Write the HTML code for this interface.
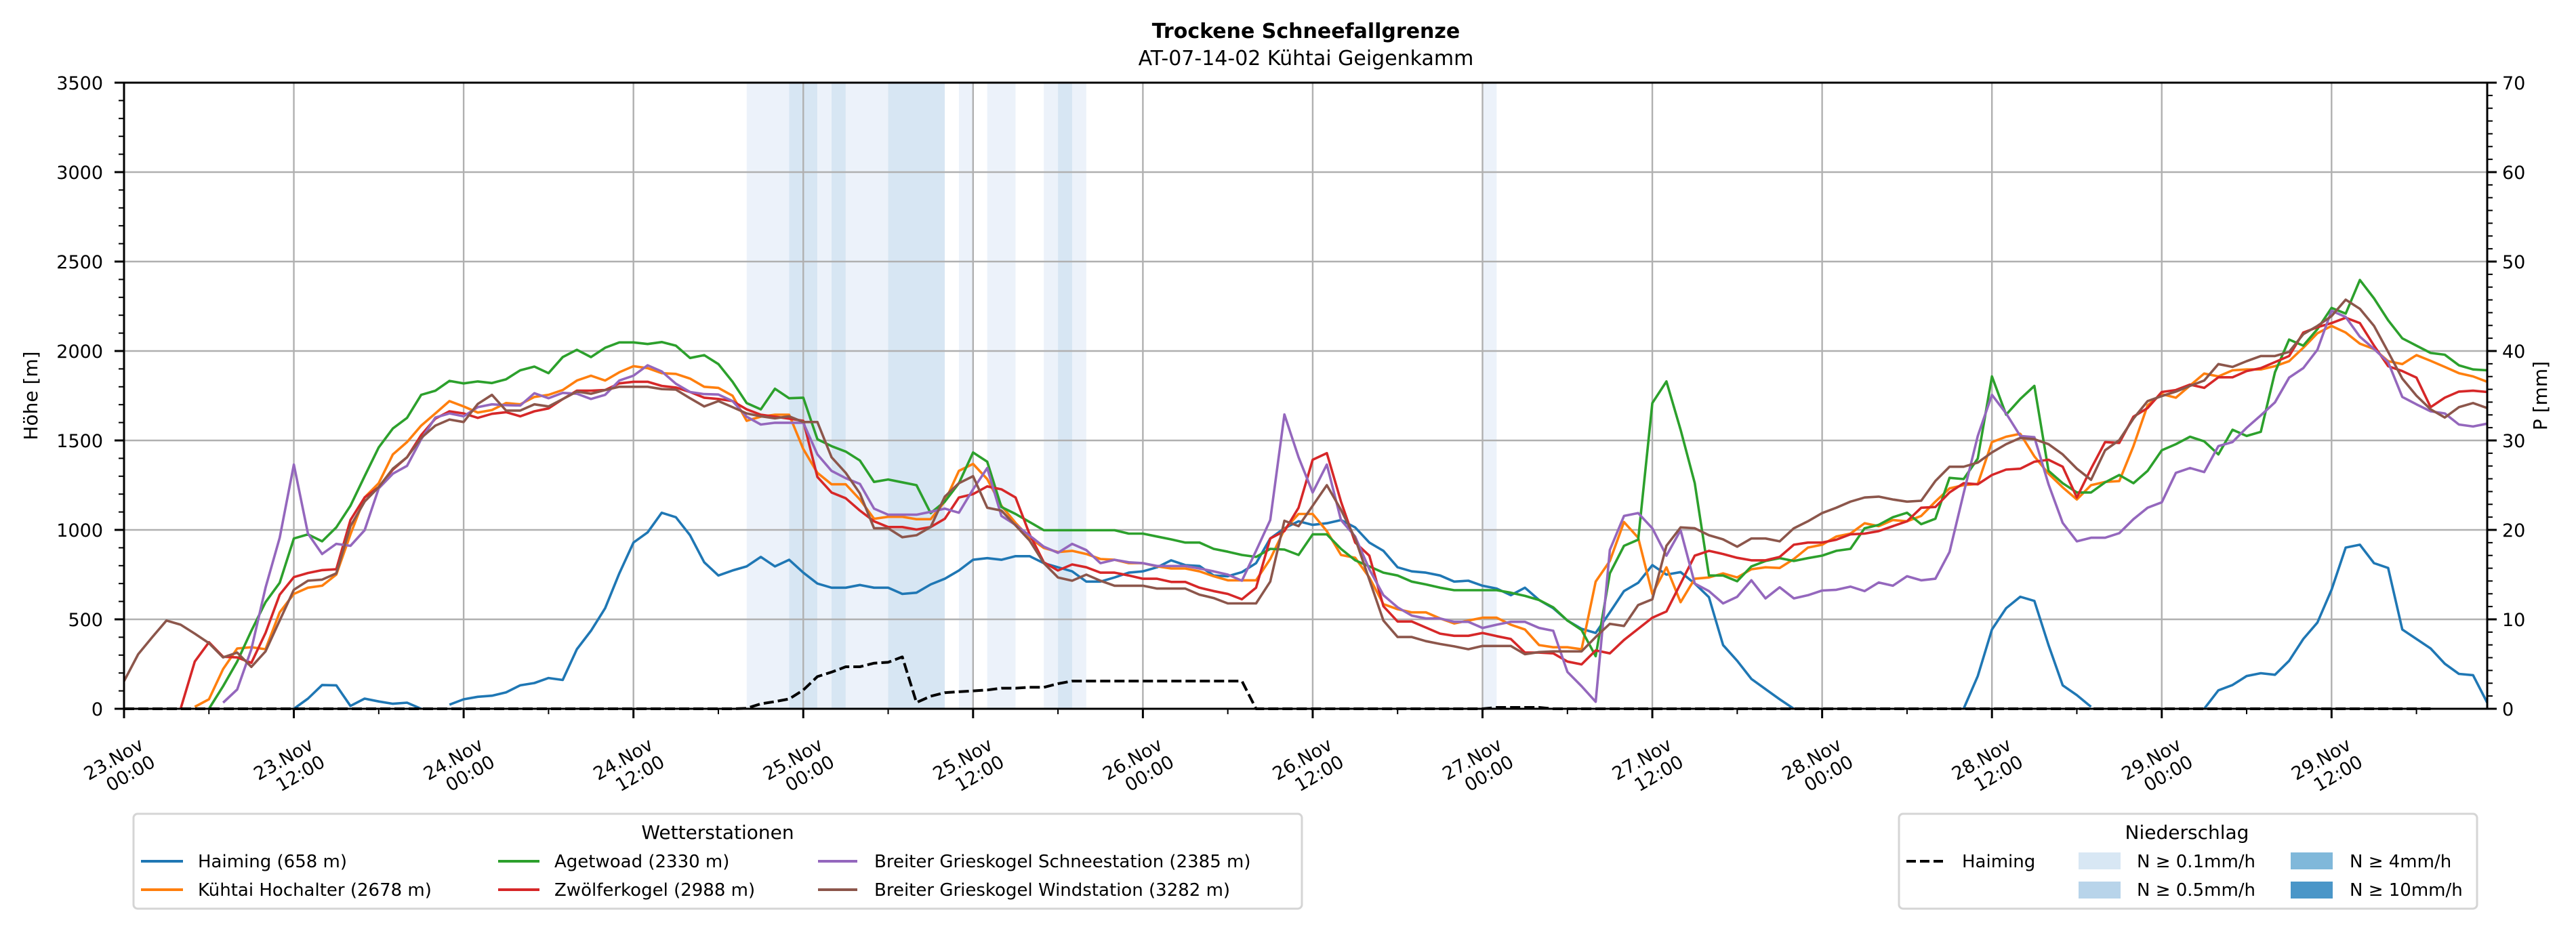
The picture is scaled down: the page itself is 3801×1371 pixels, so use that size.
<!DOCTYPE html>
<html><head><meta charset="utf-8">
<style>
html,body{margin:0;padding:0;background:#fff;}
svg{display:block;font-family:"DejaVu Sans","Liberation Sans",sans-serif;}
</style></head>
<body>
<svg id="chart" width="3801" height="1371" viewBox="0 0 3801 1371" xmlns="http://www.w3.org/2000/svg">
<rect x="0" y="0" width="3801" height="1371" fill="#fff"/>
<text x="1927" y="56" font-size="30" font-weight="bold" text-anchor="middle">Trockene Schneefallgrenze</text>
<text x="1927" y="96" font-size="30" text-anchor="middle">AT-07-14-02 Kühtai Geigenkamm</text>
<g id="bands"></g>
<g id="grid"></g>
<g id="series"></g>
<g id="axes"></g>
<text transform="translate(55,584) rotate(-90)" font-size="28" text-anchor="middle">Höhe [m]</text>
<text transform="translate(3758,584) rotate(-90)" font-size="28" text-anchor="middle">P [mm]</text>

<g>
<rect x="197" y="1201" width="1724" height="140" rx="6" fill="#fff" stroke="#d5d5d5" stroke-width="3"/>
<text x="1059" y="1238" font-size="28" text-anchor="middle">Wetterstationen</text>
<g><line x1="208" y1="1271" x2="270" y2="1271" stroke="#1f77b4" stroke-width="4"/><text x="292" y="1280" font-size="26">Haiming (658 m)</text></g>
<g><line x1="208" y1="1313" x2="270" y2="1313" stroke="#ff7f0e" stroke-width="4"/><text x="292" y="1322" font-size="26">Kühtai Hochalter (2678 m)</text></g>
<g><line x1="735" y1="1271" x2="796" y2="1271" stroke="#2ca02c" stroke-width="4"/><text x="818" y="1280" font-size="26">Agetwoad (2330 m)</text></g>
<g><line x1="735" y1="1313" x2="796" y2="1313" stroke="#d62728" stroke-width="4"/><text x="818" y="1322" font-size="26">Zwölferkogel (2988 m)</text></g>
<g><line x1="1207" y1="1271" x2="1265" y2="1271" stroke="#9467bd" stroke-width="4"/><text x="1290" y="1280" font-size="26">Breiter Grieskogel Schneestation (2385 m)</text></g>
<g><line x1="1207" y1="1313" x2="1265" y2="1313" stroke="#8c564b" stroke-width="4"/><text x="1290" y="1322" font-size="26">Breiter Grieskogel Windstation (3282 m)</text></g>
</g>

<g>
<rect x="2802" y="1201" width="853" height="140" rx="6" fill="#fff" stroke="#d5d5d5" stroke-width="3"/>
<text x="3227" y="1238" font-size="28" text-anchor="middle">Niederschlag</text>
<g><line x1="2813" y1="1271" x2="2867" y2="1271" stroke="#000" stroke-width="4" stroke-dasharray="14 6"/><text x="2895" y="1280" font-size="26">Haiming</text></g>
<g><rect x="3067" y="1258" width="62" height="25" fill="#d8e7f4"/><text x="3153" y="1280" font-size="26">N ≥ 0.1mm/h</text></g>
<g><rect x="3067" y="1301" width="62" height="25" fill="#b8d4ea"/><text x="3153" y="1322" font-size="26">N ≥ 0.5mm/h</text></g>
<g><rect x="3380" y="1258" width="62" height="25" fill="#80b8da"/><text x="3467" y="1280" font-size="26">N ≥ 4mm/h</text></g>
<g><rect x="3380" y="1301" width="62" height="25" fill="#4a96c8"/><text x="3467" y="1322" font-size="26">N ≥ 10mm/h</text></g>
</g>
</svg>
<script>
const hours = Array.from({length:168},(_,i)=>i);
const n = null;
const haiming = [n,n,n,n,n,n,n,n,n,n,n,n,0,57,133,131,16,57,41,28,34,0,n,23,53,67,73,92,131,144,172,161,333,436,562,757,929,986,1096,1071,970,819,745,773,796,849,796,833,761,700,677,677,692,677,677,642,649,695,727,773,833,842,833,853,853,814,791,768,711,711,734,761,768,791,830,803,798,745,741,764,814,952,1009,1048,1028,1037,1055,1014,929,883,791,768,761,745,711,716,688,672,635,677,608,562,493,447,424,539,658,704,803,750,764,700,624,356,268,167,110,53,0,n,n,n,n,n,n,n,n,n,n,n,0,183,443,562,626,603,356,131,76,11,n,n,n,n,n,n,n,0,103,133,183,199,190,268,390,482,665,901,917,814,787,443,390,337,252,195,188,34];
const kuehtai = [n,n,n,n,n,11,53,222,337,344,333,539,642,677,688,750,975,1181,1261,1422,1491,1583,1651,1720,1690,1656,1670,1709,1702,1743,1755,1782,1835,1862,1835,1881,1915,1904,1876,1872,1846,1800,1794,1750,1610,1633,1644,1644,1452,1319,1255,1255,1170,1062,1073,1073,1060,1060,1158,1330,1369,1284,1135,1039,956,899,876,883,865,837,833,814,814,796,784,784,768,741,718,718,718,837,1002,1089,1089,993,860,844,734,585,557,539,539,505,477,493,509,509,470,443,356,344,344,333,711,826,1044,956,642,791,596,727,734,757,734,780,791,787,837,901,917,963,979,1037,1021,1055,1048,1078,1158,1232,1250,1257,1491,1521,1537,1411,1314,1238,1170,1250,1268,1273,1468,1697,1759,1739,1807,1874,1858,1892,1897,1897,1915,1943,2018,2099,2140,2103,2041,2011,1943,1927,1977,1945,1911,1876,1858,1828];
const agetwoad = [n,n,n,n,n,n,0,126,264,436,596,704,952,975,936,1014,1135,1300,1461,1567,1626,1755,1778,1833,1819,1830,1821,1842,1892,1913,1876,1966,2007,1966,2018,2048,2048,2039,2050,2030,1961,1977,1927,1828,1709,1674,1789,1736,1739,1507,1468,1438,1388,1268,1282,1266,1250,1094,1158,1261,1433,1381,1128,1089,1044,998,998,998,998,998,998,979,979,963,947,929,929,894,878,860,849,894,890,860,975,975,894,830,796,761,745,711,695,677,663,663,663,663,649,631,608,567,493,440,294,757,911,945,1709,1830,1560,1261,745,745,713,796,826,842,826,842,856,883,894,1009,1028,1071,1096,1032,1062,1291,1284,1399,1858,1644,1732,1805,1330,1261,1209,1209,1266,1307,1261,1330,1445,1479,1521,1495,1422,1560,1525,1548,1881,2064,2030,2122,2241,2209,2397,2294,2172,2071,2030,1989,1979,1920,1897,1892];
const zwoelfer = [n,n,n,n,0,264,372,291,287,257,424,638,736,759,775,780,1055,1181,1239,1337,1406,1530,1622,1663,1651,1626,1649,1658,1635,1663,1679,1731,1778,1778,1782,1819,1828,1828,1805,1796,1771,1739,1732,1720,1674,1644,1633,1622,1610,1296,1209,1177,1108,1048,1016,1016,1002,1016,1062,1181,1200,1243,1227,1181,975,819,773,807,791,761,761,745,727,727,709,709,677,658,642,612,677,952,993,1124,1392,1429,1158,929,856,573,488,488,454,420,408,408,424,406,390,314,314,310,264,248,326,310,385,447,509,544,700,856,883,865,844,830,830,849,917,929,929,945,975,979,993,1021,1048,1124,1128,1209,1261,1255,1307,1337,1342,1381,1392,1353,1181,1342,1491,1486,1633,1681,1771,1782,1812,1794,1853,1853,1888,1904,1938,1972,2103,2133,2156,2186,2156,2030,1915,1888,1851,1686,1739,1773,1778,1771];
const schneestation = [n,n,n,n,n,n,n,34,108,333,677,956,1365,979,865,922,911,998,1232,1314,1358,1507,1628,1651,1635,1686,1702,1697,1695,1764,1736,1766,1761,1732,1755,1835,1862,1920,1886,1817,1771,1759,1757,1720,1633,1589,1599,1599,1599,1422,1330,1289,1257,1119,1085,1085,1085,1101,1119,1096,1227,1346,1078,1028,968,906,872,922,887,814,833,819,814,798,798,798,784,768,750,716,883,1055,1645,1406,1209,1365,1055,963,780,635,567,521,505,505,486,486,452,470,486,486,452,436,206,126,39,888,1078,1094,1009,856,998,700,658,589,626,718,617,679,617,635,661,665,683,658,706,688,741,718,727,876,1204,1525,1755,1651,1525,1518,1255,1039,936,956,956,982,1060,1124,1154,1319,1346,1323,1468,1491,1571,1640,1713,1851,1904,2007,2225,2190,2080,2011,1938,1743,1702,1663,1651,1589,1578,1594];
const windstation = [154,305,401,493,470,420,367,287,314,234,321,493,665,716,722,757,1021,1158,1239,1342,1406,1514,1583,1617,1603,1704,1755,1667,1667,1702,1690,1731,1773,1761,1782,1800,1800,1800,1787,1784,1736,1690,1720,1686,1651,1635,1624,1635,1603,1603,1406,1319,1204,1009,1009,959,970,1016,1186,1261,1300,1124,1108,1025,940,814,734,716,750,716,688,688,688,672,672,672,638,619,589,589,589,711,1051,1021,1135,1250,1112,952,722,493,401,401,378,362,349,333,351,351,351,305,317,321,321,321,401,475,463,580,612,911,1014,1009,970,947,906,952,952,936,1009,1048,1094,1124,1158,1181,1186,1170,1158,1163,1273,1353,1353,1376,1433,1479,1514,1507,1479,1422,1342,1280,1445,1502,1622,1720,1748,1773,1805,1835,1927,1911,1943,1972,1972,1995,2094,2140,2195,2287,2236,2140,1995,1846,1750,1674,1628,1686,1709,1681];
const precipHaiming = [0,0,0,0,0,0,0,0,0,0,0,0,0,0,0,0,0,0,0,0,0,0,0,0,0,0,0,0,0,0,0,0,0,0,0,0,0,0,0,0,0,0,0,0,0.05,0.55,0.8,1.1,2.1,3.6,4.1,4.7,4.7,5.1,5.2,5.8,0.7,1.4,1.8,1.9,2.0,2.1,2.3,2.3,2.4,2.4,2.8,3.1,3.1,3.1,3.1,3.1,3.1,3.1,3.1,3.1,3.1,3.1,3.1,3.1,0,0,0,0,0,0,0,0,0,0,0,0,0,0,0,0,0,0.15,0.15,0.15,0.15,0,0,0,0,0,0,0,0,0,0,0,0,0,0,0,0,0,0,0,0,0,0,0,0,0,0,0,0,0,0,0,0,0,0,0,0,0,0,0,0,0,0,0,0,0,0,0,0,0,0,0,0,0,0,0,0,0,0,0,0,0,0,0];
const bandStart = [44,47,49,50,51,54,59,61,65,66,67,96];
const bandEnd   = [47,49,50,51,54,58,60,63,66,67,68,97];
const bandLevel = [0.1,0.5,0.1,0.5,0.1,0.5,0.1,0.1,0.1,0.5,0.1,0.1];
const yTicks = [0,500,1000,1500,2000,2500,3000,3500];
const y2Ticks = [0,10,20,30,40,50,60,70];
const xTickHours = [0,12,24,36,48,60,72,84,96,108,120,132,144,156];
const xTickDay = ["23.Nov","23.Nov","24.Nov","24.Nov","25.Nov","25.Nov","26.Nov","26.Nov","27.Nov","27.Nov","28.Nov","28.Nov","29.Nov","29.Nov"];
const xTickTime = ["00:00","12:00","00:00","12:00","00:00","12:00","00:00","12:00","00:00","12:00","00:00","12:00","00:00","12:00"];

const L=183,R=3670,T=122,B=1046,HMAX=167,YMAX=3500,PMAX=70;
const X=h=>L+h*(R-L)/HMAX;
const Y=v=>B-v*(B-T)/YMAX;
const YP=v=>B-v*(B-T)/PMAX;
const NS="http://www.w3.org/2000/svg";
function mk(tag,attrs,parent){const e=document.createElementNS(NS,tag);for(const k in attrs)e.setAttribute(k,attrs[k]);parent.appendChild(e);return e;}

const bands=document.getElementById('bands');
bandStart.forEach((s,i)=>{
  const r=mk('rect',{x:X(s),y:T,width:X(bandEnd[i])-X(s),height:B-T,fill:bandLevel[i]>=0.5?'#d7e6f3':'#ecf2fa'},bands);
  
  
});

const grid=document.getElementById('grid');
xTickHours.forEach(h=>{const l=mk('line',{x1:X(h),x2:X(h),y1:T,y2:B,stroke:'#b0b0b0','stroke-width':2.4},grid);
  
  });
yTicks.forEach(v=>{const l=mk('line',{x1:L,x2:R,y1:Y(v),y2:Y(v),stroke:'#b0b0b0','stroke-width':2.4},grid);
  
  });

const series=document.getElementById('series');
function drawLine(vals,fy,color,name,dash){
  let d='',pen=false;
  vals.forEach((v,i)=>{if(v===null){pen=false;return;}d+=(pen?'L':'M')+X(hours[i]).toFixed(1)+' '+fy(v).toFixed(1)+' ';pen=true;});
  const a={d:d,fill:'none',stroke:color,'stroke-width':dash?4:3.6,'stroke-linejoin':'round'};
  if(dash)a['stroke-dasharray']='15 6';
  const p=mk('path',a,series);
  
  
}
drawLine(haiming,Y,'#1f77b4','line-haiming');
drawLine(kuehtai,Y,'#ff7f0e','line-kuehtai-hochalter');
drawLine(agetwoad,Y,'#2ca02c','line-agetwoad');
drawLine(zwoelfer,Y,'#d62728','line-zwoelferkogel');
drawLine(schneestation,Y,'#9467bd','line-grieskogel-schneestation');
drawLine(windstation,Y,'#8c564b','line-grieskogel-windstation');
drawLine(precipHaiming,YP,'#000','line-precip-haiming',true);

const axes=document.getElementById('axes');
const fr=mk('rect',{x:L,y:T,width:R-L,height:B-T,fill:'none',stroke:'#000','stroke-width':3},axes);


for(let v=0;v<=YMAX;v+=100){mk('line',{x1:L,x2:L-(v%500?8:14),y1:Y(v),y2:Y(v),stroke:'#000','stroke-width':v%500?2:3},axes);}
for(let k=0;k<=49;k++){const v=k*10/7;mk('line',{x1:R,x2:R+(k%7?8:14),y1:YP(v),y2:YP(v),stroke:'#000','stroke-width':k%7?2:3},axes);}
for(let h=0;h<=HMAX;h+=6){mk('line',{x1:X(h),x2:X(h),y1:B,y2:B+(h%12?8:14),stroke:'#000','stroke-width':h%12?2:3},axes);}
yTicks.forEach(v=>{const t=mk('text',{x:152,y:Y(v)+10,'font-size':27,'text-anchor':'end'},axes);t.textContent=v;
  
  });
y2Ticks.forEach(v=>{const t=mk('text',{x:3692,y:YP(v)+10,'font-size':27,'text-anchor':'start'},axes);t.textContent=v;
  
  });
xTickHours.forEach((h,i)=>{
  const x=X(h);
  const g=mk('g',{},axes);
  
  
  const t1=mk('text',{transform:`translate(${x-15},1121) rotate(-30)`,'font-size':27,'text-anchor':'middle','dominant-baseline':'central'},g);t1.textContent=xTickDay[i];
  const t2=mk('text',{transform:`translate(${x+10},1142) rotate(-30)`,'font-size':27,'text-anchor':'middle','dominant-baseline':'central'},g);t2.textContent=xTickTime[i];
});
</script>
</body></html>
